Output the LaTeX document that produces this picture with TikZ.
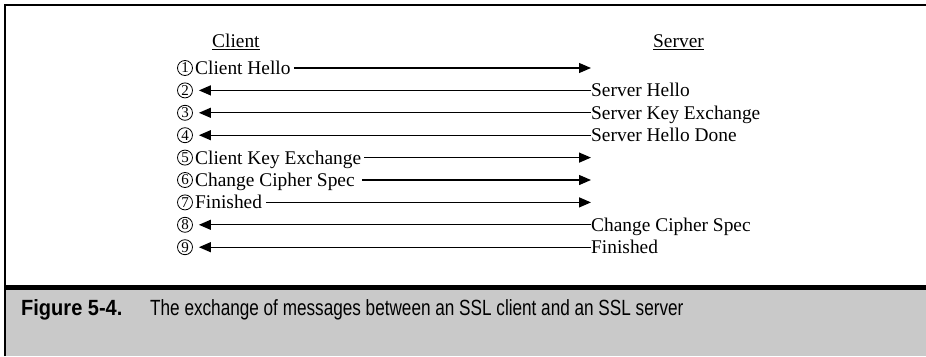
\documentclass[tikz,border=0pt]{standalone}
\usepackage{fontspec}
\setmainfont{Liberation Serif}
\newfontfamily\capbold[FakeStretch=0.91]{Liberation Sans}
\newfontfamily\captext[FakeStretch=0.78]{Liberation Sans}
\usetikzlibrary{arrows.meta}
\definecolor{band}{HTML}{C9C9C9}
\tikzset{
  num/.style={circle, draw, line width=0.8pt, minimum size=15pt, inner sep=0pt,
              font=\fontsize{15}{15}\selectfont},
  msg/.style={inner sep=0pt, text height=12.8pt, text depth=0pt,
              font=\fontsize{19.4}{19.4}\selectfont},
  head/.style={inner sep=0pt, anchor=base west, text depth=0pt,
               font=\fontsize{19.4}{19.4}\selectfont},
  flow/.style={line width=1.3pt, -{Triangle[length=12pt,width=10pt]}},
  frame/.style={line width=2.2pt},
  under/.style={line width=0.9pt},
}
\begin{document}
\begin{tikzpicture}[x=1pt,y=-1pt]
\useasboundingbox (0,0) rectangle (926,356);

% caption band and frame
\fill[band] (5,288) rectangle (926,356);
\draw[line width=4.4pt] (5,287.3) -- (926,287.3);
\draw[frame] (5,356) -- (5,5) -- (926,5);

% column headings
\node[head] (hc) at (212,47) {Client};
\node[head] (hs) at (653,47) {Server};
\draw[under] ([yshift=-2.5pt]hc.south west) -- ([yshift=-2.5pt]hc.south east);
\draw[under] ([yshift=-2.5pt]hs.south west) -- ([yshift=-2.5pt]hs.south east);

% message rows
\node[num] (n1) at (185,68)    {1};
\node[num] (n2) at (185,90.4)  {2};
\node[num] (n3) at (185,112.8) {3};
\node[num] (n4) at (185,135.2) {4};
\node[num] (n5) at (185,157.6) {5};
\node[num] (n6) at (185,180)   {6};
\node[num] (n7) at (185,202.4) {7};
\node[num] (n8) at (185,224.8) {8};
\node[num] (n9) at (185,247.2) {9};

% client to server
\node[msg, anchor=west] (c1) at (195,68)    {Client Hello};
\node[msg, anchor=west] (c5) at (195,157.6) {Client Key Exchange};
\node[msg, anchor=west] (c6) at (195,180)   {Change Cipher Spec};
\node[msg, anchor=west] (c7) at (195,202.4) {Finished};
\coordinate (t1) at (591,68);
\coordinate (t5) at (591,157.6);
\coordinate (t6) at (591,180);
\coordinate (t7) at (591,202.4);
\draw[flow, shorten <=3pt] (c1.east) -- (t1);
\draw[flow, shorten <=3pt] (c5.east) -- (t5);
\draw[flow, shorten <=7pt] (c6.east) -- (t6);
\draw[flow, shorten <=4pt] (c7.east) -- (t7);

% server to client
\node[msg, anchor=west] (s2) at (591,90.4)  {Server Hello};
\node[msg, anchor=west] (s3) at (591,112.8) {Server Key Exchange};
\node[msg, anchor=west] (s4) at (591,135.2) {Server Hello Done};
\node[msg, anchor=west] (s8) at (591,224.8) {Change Cipher Spec};
\node[msg, anchor=west] (s9) at (591,247.2) {Finished};
\draw[flow, shorten >=6pt] (s2.west) -- (n2.east);
\draw[flow, shorten >=6pt] (s3.west) -- (n3.east);
\draw[flow, shorten >=6pt] (s4.west) -- (n4.east);
\draw[flow, shorten >=6pt] (s8.west) -- (n8.east);
\draw[flow, shorten >=6pt] (s9.west) -- (n9.east);

% caption
\node[inner sep=0pt, anchor=base west, font=\capbold\bfseries\fontsize{22}{22}\selectfont]
  (fig) at (21,315) {Figure 5-4.};
\node[inner sep=0pt, anchor=base west, font=\captext\fontsize{22}{22}\selectfont]
  (cap) at (150,315) {The exchange of messages between an SSL client and an SSL server};
\end{tikzpicture}
\end{document}
